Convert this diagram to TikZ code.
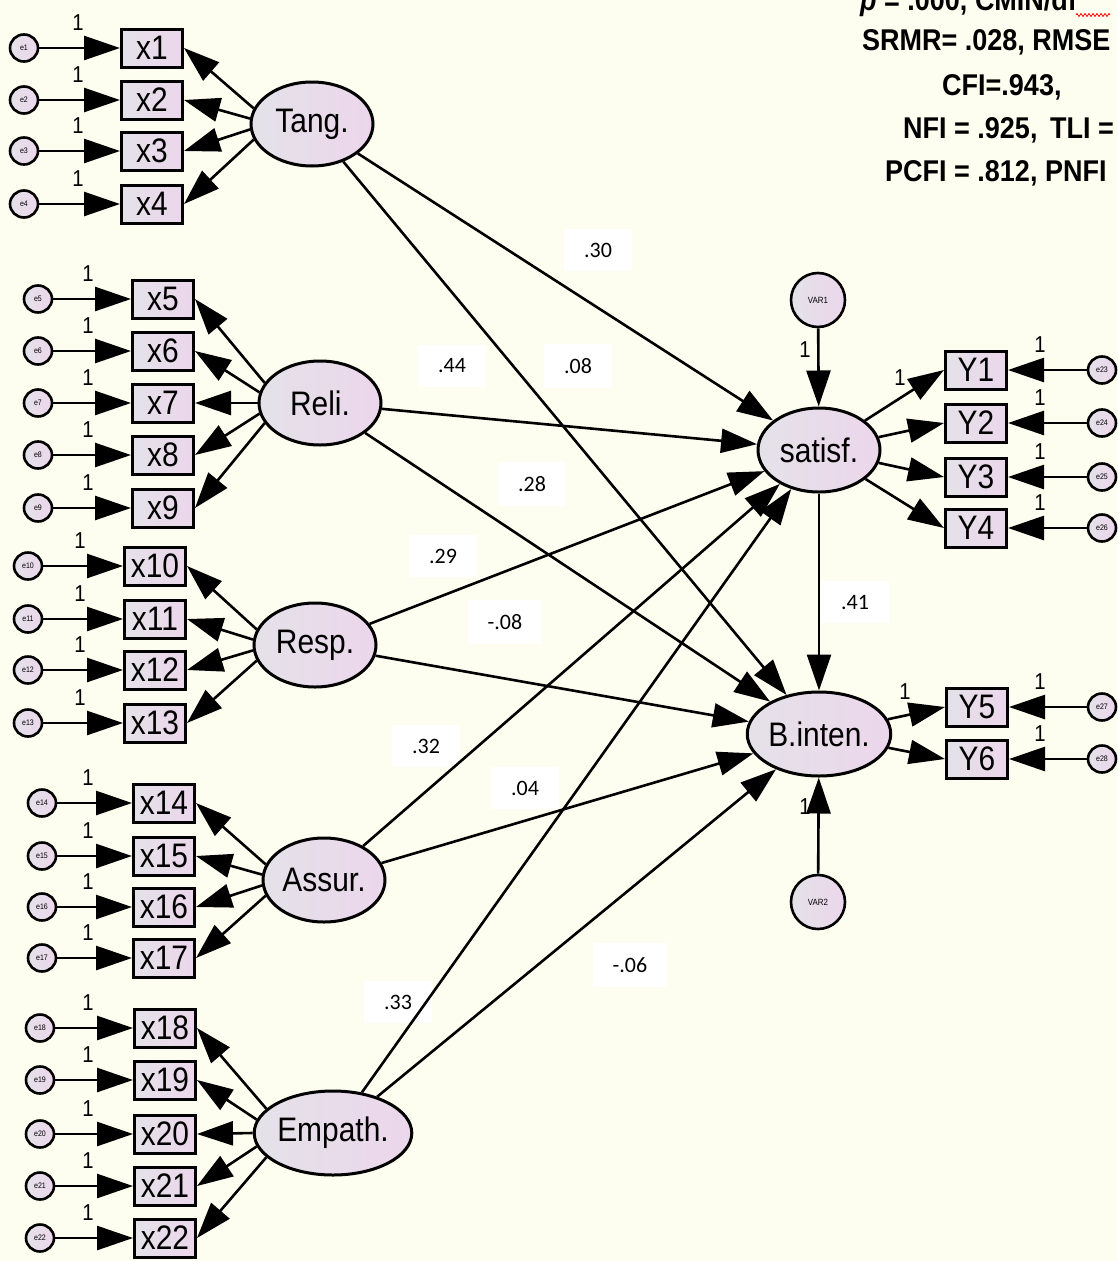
\documentclass[tikz,border=0pt]{standalone}
\usepackage{fontspec}
\setmainfont{Liberation Sans}
\newfontfamily\amos{Liberation Sans}[FakeStretch=0.88]
\newfontfamily\calib{Carlito}
\newfontfamily\fitf{Liberation Sans Bold}[FakeStretch=0.9]
\usetikzlibrary{arrows.meta,shapes.geometric,decorations.pathmorphing}
\definecolor{bgc}{RGB}{254,254,240}
\definecolor{lav}{RGB}{236,214,236}
\definecolor{lgr}{RGB}{228,226,232}
\begin{document}
\begin{tikzpicture}[x=1pt,y=-1pt,
  latent/.style={ellipse, draw, line width=3pt, left color=lgr, right color=lav, minimum width=122pt, minimum height=84pt, inner sep=0pt, font=\amos\fontsize{34}{34}\selectfont},
  obs/.style={rectangle, draw, line width=3pt, left color=lgr, right color=lav, minimum width=61pt, minimum height=38pt, inner sep=0pt, font=\amos\fontsize{34}{34}\selectfont},
  err/.style={ellipse, draw, line width=2.6pt, left color=lgr, right color=lav, minimum width=28pt, minimum height=27pt, inner sep=0pt, font=\amos\fontsize{8}{8}\selectfont},
  varc/.style={circle, draw, line width=2.6pt, left color=lgr, right color=lav, minimum size=54pt, inner sep=0pt, font=\amos\fontsize{9}{9}\selectfont},
  arr/.style={line width=2.6pt, -{Triangle[length=36pt,width=24pt]}},
  one/.style={font=\amos\fontsize{23}{23}\selectfont, inner sep=0pt},
  coef/.style={fill=white, inner xsep=20pt, inner ysep=14pt, font=\calib\fontsize{22}{22}\selectfont},
  fit/.style={font=\fitf\fontsize{30}{30}\selectfont, anchor=base west, inner sep=0pt},
]
\useasboundingbox (0,0) rectangle (1118,1261);
\clip (0,0) rectangle (1118,1261);
\fill[bgc] (0,0) rectangle (1118,1261);

% fit indices
\node[fit] (f1) at (860,10) {\textit{p} = .000, CMIN/df};
\node[fit] (f2) at (862,50) {SRMR= .028, RMSE};
\node[fit] (f3) at (942,95) {CFI=.943,};
\node[fit] (f4) at (903,138) {NFI = .925,\, TLI =};
\node[fit] (f5) at (885,181) {PCFI = .812, PNFI};
\coordinate (sq1) at (1076,15);
\coordinate (sq2) at (1110,15);
\draw[red, line width=0.8pt, decorate, decoration={zigzag, segment length=4pt, amplitude=1.5pt}] (sq1) -- (sq2);

% coefficients
\node[coef] (c1) at (598,250) {.30};
\node[coef] (c2) at (452,366) {.44};
\node[coef] (c3) at (578,366) {.08};
\node[coef] (c4) at (532,484) {.28};
\node[coef] (c5) at (443,556) {.29};
\node[coef] (c6) at (505,622) {-.08};
\node[coef] (c7) at (426,746) {.32};
\node[coef] (c8) at (525,788) {.04};
\node[coef] (c9) at (630,965) {-.06};
\node[coef] (c10) at (398,1002) {.33};
\node[coef] (c11) at (855,602) {.41};

% exogenous latents
\node[latent] (Tang) at (312,124) {Tang.};
\node[latent] (Reli) at (320,403) {Reli.};
\node[latent] (Resp) at (315,645) {Resp.};
\node[latent] (Assur) at (324,880) {Assur.};
\node[latent] (Empath) at (333,1133) {Empath.};

% endogenous
\node[latent] (satisf) at (819,450) {satisf.};
\node[latent] (Binten) at (819,734) {B.inten.};
\node[varc] (VAR1) at (818,300) {VAR1};
\node[varc] (VAR2) at (818,902) {VAR2};

% Tang indicators
\foreach \i/\y/\a in {1/48/165, 2/100/175, 3/151/185, 4/204/195} {
  \node[obs] (x\i) at (152,\y) {x\i};
  \node[err] (e\i) at (24,\y) {e\i};
  \node[one] (o\i) at (78,{\y-25}) {1};
  \draw[arr] (e\i) -- (x\i);
  \draw[arr] (Tang.\a) -- (x\i.east);
}
% Reli indicators
\foreach \i/\y/\a in {5/299/160, 6/351/170, 7/403/180, 8/455/190, 9/508/200} {
  \node[obs] (x\i) at (163,\y) {x\i};
  \node[err] (e\i) at (38,\y) {e\i};
  \node[one] (o\i) at (88,{\y-25}) {1};
  \draw[arr] (e\i) -- (x\i);
  \draw[arr] (Reli.\a) -- (x\i.east);
}
% Resp indicators
\foreach \i/\y/\a in {10/566/165, 11/619/175, 12/670/185, 13/723/195} {
  \node[obs] (x\i) at (155,\y) {x\i};
  \node[err] (e\i) at (28,\y) {e\i};
  \node[one] (o\i) at (80,{\y-25}) {1};
  \draw[arr] (e\i) -- (x\i);
  \draw[arr] (Resp.\a) -- (x\i.east);
}
% Assur indicators
\foreach \i/\y/\a in {14/803/165, 15/856/175, 16/907/185, 17/958/195} {
  \node[obs] (x\i) at (164,\y) {x\i};
  \node[err] (e\i) at (42,\y) {e\i};
  \node[one] (o\i) at (88,{\y-25}) {1};
  \draw[arr] (e\i) -- (x\i);
  \draw[arr] (Assur.\a) -- (x\i.east);
}
% Empath indicators
\foreach \i/\y/\a in {18/1028/160, 19/1080/170, 20/1134/180, 21/1186/190, 22/1238/200} {
  \node[obs] (x\i) at (165,\y) {x\i};
  \node[err] (e\i) at (40,\y) {e\i};
  \node[one] (o\i) at (88,{\y-25}) {1};
  \draw[arr] (e\i) -- (x\i);
  \draw[arr] (Empath.\a) -- (x\i.east);
}

% satisfaction indicators
\foreach \i/\y/\e in {1/370/23, 2/423/24, 3/477/25, 4/528/26} {
  \node[obs] (Y\i) at (976,\y) {Y\i};
  \node[err] (e\e) at (1102,\y) {e\e};
  \node[one] (o\e) at (1040,{\y-25}) {1};
  \draw[arr] (e\e) -- (Y\i);
  \draw[arr] (satisf) -- (Y\i.west);
}
% intention indicators
\foreach \i/\y/\e in {5/707/27, 6/759/28} {
  \node[obs] (Y\i) at (977,\y) {Y\i};
  \node[err] (e\e) at (1102,\y) {e\e};
  \node[one] (o\e) at (1040,{\y-25}) {1};
  \draw[arr] (e\e) -- (Y\i);
  \draw[arr] (Binten) -- (Y\i.west);
}

\node[one] (oy1) at (900,378) {1};
\node[one] (oy5) at (905,692) {1};
\node[one] (ov1) at (805,350) {1};
\node[one] (ov2) at (805,807) {1};

% structural paths
\foreach \s in {Tang,Reli,Resp,Assur,Empath} {
  \draw[arr] (\s) -- (satisf);
  \draw[arr] (\s) -- (Binten);
}
\draw[arr] (satisf) -- (Binten);
\draw[arr] (VAR1) -- (satisf);
\draw[arr] (VAR2) -- (Binten);
\end{tikzpicture}
\end{document}
